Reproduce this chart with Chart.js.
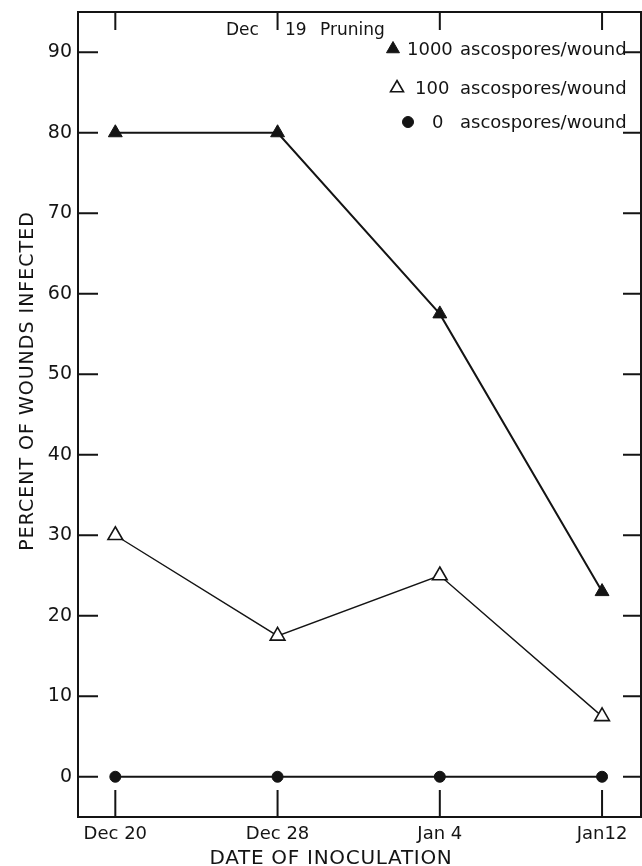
<!DOCTYPE html>
<html><head><meta charset="utf-8">
<script src="https://cdn.jsdelivr.net/npm/chart.js@4"></script>
<style>html,body{margin:0;padding:0;background:#fff;overflow:hidden}#wrap{width:642px;height:866px}</style>
</head><body><div id="wrap"><canvas id="c" width="642" height="866"></canvas></div>
<script>
const categories = ['Dec 20', 'Dec 28', 'Jan 4', 'Jan 12'];
const tickLabels = ['Dec 20', 'Dec 28', 'Jan 4', 'Jan12'];
const series1000 = [80, 80, 57.5, 23];
const series100 = [30, 17.5, 25, 7.5];
const series0 = [0, 0, 0, 0];
const yTickValues = [0, 10, 20, 30, 40, 50, 60, 70, 80, 90];
const legendNumbers = ['1000', '100', '0'];
const legendUnit = 'ascospores/wound';
const annotationText = ['Dec', '19', 'Pruning'];
const xTitle = 'DATE OF INOCULATION';
const yTitle = 'PERCENT OF WOUNDS INFECTED';

const INK = '#141414';
const FONT = '"DejaVu Sans", sans-serif';

function pts(vals) { return vals.map((v, i) => ({ x: i, y: v })); }

const datasets = [
  { label: legendNumbers[0] + ' ' + legendUnit, data: pts(series1000), borderColor: INK, backgroundColor: INK,
    borderWidth: 2, pointStyle: 'triangle', pointRadius: 8, pointBorderWidth: 1, pointBackgroundColor: INK, pointBorderColor: INK },
  { label: legendNumbers[1] + ' ' + legendUnit, data: pts(series100), borderColor: INK, backgroundColor: '#fff',
    borderWidth: 1.4, pointStyle: 'triangle', pointRadius: 8.5, pointBorderWidth: 1.6, pointBackgroundColor: '#fff', pointBorderColor: INK },
  { label: legendNumbers[2] + ' ' + legendUnit, data: pts(series0), borderColor: INK, backgroundColor: INK,
    borderWidth: 2, pointStyle: 'circle', pointRadius: 5.5, pointBorderWidth: 1, pointBackgroundColor: INK, pointBorderColor: INK }
];

function noPad(s) { s.paddingLeft = 0; s.paddingRight = 0; s.paddingTop = 0; s.paddingBottom = 0; }

const framePlugin = {
  id: 'frame',
  beforeDatasetsDraw(chart) {
    const { ctx, chartArea: a, scales: { x, y } } = chart;
    ctx.save();
    ctx.strokeStyle = INK;
    ctx.lineWidth = 2;
    ctx.strokeRect(a.left, a.top, a.right - a.left, a.bottom - a.top);
    ctx.beginPath();
    yTickValues.forEach(v => {
      const py = y.getPixelForValue(v);
      ctx.moveTo(a.left, py); ctx.lineTo(a.left + 20, py);
      ctx.moveTo(a.right, py); ctx.lineTo(a.right - 18, py);
    });
    categories.forEach((c, i) => {
      const px = x.getPixelForValue(i);
      ctx.moveTo(px, a.top); ctx.lineTo(px, a.top + 18);
      ctx.moveTo(px, a.bottom); ctx.lineTo(px, a.bottom - 27);
    });
    ctx.stroke();
    ctx.restore();
  },
  afterDraw(chart) {
    const { ctx } = chart;
    ctx.save();
    ctx.fillStyle = INK;
    ctx.textBaseline = 'alphabetic';
    // annotation
    ctx.font = '17px ' + FONT;
    ctx.textAlign = 'left';
    ctx.fillText(annotationText[0], 226, 35);
    ctx.fillText(annotationText[1], 285, 35);
    ctx.fillText(annotationText[2], 320, 35);
    // legend
    const rows = [
      { yb: 55, mx: 393, tx: 407 },
      { yb: 94, mx: 397, tx: 415 },
      { yb: 128, mx: 408, tx: 432 }
    ];
    rows.forEach((r, i) => {
      const ds = chart.data.datasets[i];
      ctx.fillStyle = ds.pointBackgroundColor;
      ctx.strokeStyle = ds.pointBorderColor;
      ctx.lineWidth = ds.pointBorderWidth;
      Chart.helpers.drawPoint(ctx, { pointStyle: ds.pointStyle, radius: ds.pointStyle === 'circle' ? 5.5 : 7.5, rotation: 0, borderWidth: ds.pointBorderWidth }, r.mx, r.yb - 6);
      ctx.fillStyle = INK;
      ctx.font = '18px ' + FONT;
      ctx.fillText(legendNumbers[i], r.tx, r.yb);
      ctx.fillText(legendUnit, 460, r.yb);
    });
    // axis titles
    ctx.textAlign = 'center';
    ctx.font = '20px ' + FONT;
    ctx.letterSpacing = '0.7px';
    ctx.fillText(xTitle, 331, 864);
    ctx.font = '19px ' + FONT;
    ctx.letterSpacing = '1px';
    ctx.translate(33, 381);
    ctx.rotate(-Math.PI / 2);
    ctx.fillText(yTitle, 0, 0);
    ctx.restore();
  }
};

new Chart(document.getElementById('c'), {
  type: 'line',
  data: { datasets },
  options: {
    responsive: false,
    devicePixelRatio: 1,
    animation: false,
    layout: { autoPadding: false, padding: { left: 0, top: 12, right: 1, bottom: 0 } },
    plugins: { legend: { display: false }, tooltip: { enabled: false }, title: { display: false } },
    scales: {
      x: {
        type: 'linear', min: -0.23, max: 3.24,
        grid: { display: false, drawTicks: false }, border: { display: false },
        afterBuildTicks: s => { s.ticks = categories.map((c, i) => ({ value: i })); },
        afterFit: s => { s.height = 49; noPad(s); },
        ticks: { color: INK, font: { family: FONT, size: 18 }, padding: 7, maxRotation: 0, autoSkip: false,
          callback: v => tickLabels[v] }
      },
      y: {
        type: 'linear', min: -5, max: 95,
        grid: { display: false, drawTicks: false }, border: { display: false },
        afterBuildTicks: s => { s.ticks = yTickValues.map(v => ({ value: v })); },
        afterFit: s => { s.width = 78; noPad(s); },
        ticks: { color: INK, font: { family: FONT, size: 19 }, padding: 6 }
      }
    }
  },
  plugins: [framePlugin]
});
</script>
</body></html>
